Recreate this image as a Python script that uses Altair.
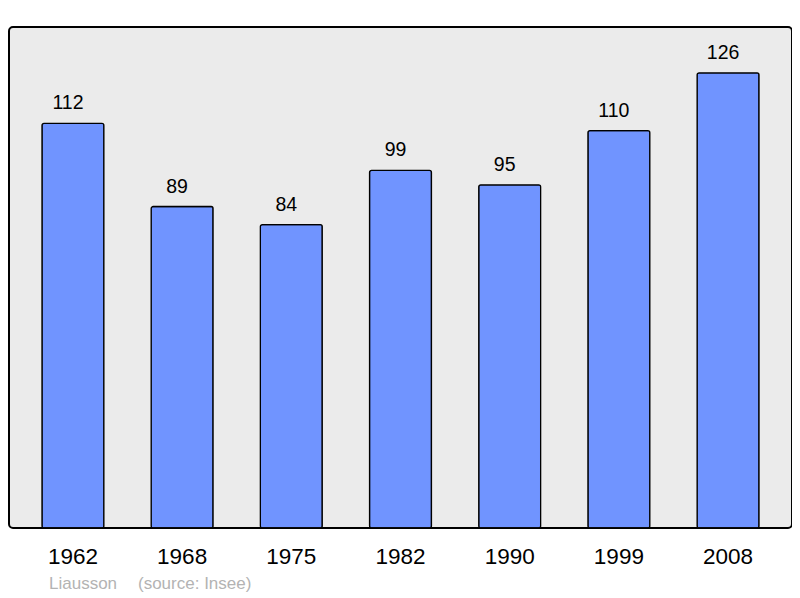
import altair as alt
import pandas as pd

years = ["1962", "1968", "1975", "1982", "1990", "1999", "2008"]
population = [112, 89, 84, 99, 95, 110, 126]
footer_texts = ["Liausson", "(source: Insee)"]

df = pd.DataFrame({"year": years, "pop": population})

FONT = "Liberation Sans"

x = alt.X("year:N", sort=years,
          scale=alt.Scale(paddingInner=0.433, paddingOuter=0.302),
          axis=alt.Axis(title=None, labelAngle=0, labelFontSize=22.5, labelColor="black",
                        labelFont=FONT, ticks=False, domain=False, labelPadding=17))
y = alt.Y("pop:Q", scale=alt.Scale(domain=[0, 138.7], nice=False),
          axis=None)

bars = alt.Chart(df).mark_bar(
    color="#7094ff", stroke="black", strokeWidth=1.3, cornerRadius=2
).encode(x=x, y=y)

labels = alt.Chart(df).mark_text(
    baseline="alphabetic", dy=-14, dx=-5, fontSize=19.5, font=FONT, color="black"
).encode(x=x, y=y, text="pop:Q")

foot1 = alt.Chart(pd.DataFrame({"t": [footer_texts[0]]})).mark_text(
    align="left", baseline="middle", fontSize=17, font=FONT, color="#b3b3b3"
).encode(x=alt.value(40), y=alt.value(557), text="t:N")

foot2 = alt.Chart(pd.DataFrame({"t": [footer_texts[1]]})).mark_text(
    align="left", baseline="middle", fontSize=17, font=FONT, color="#b3b3b3"
).encode(x=alt.value(129), y=alt.value(557), text="t:N")

chart = alt.layer(bars, labels, foot1, foot2).properties(
    width=783, height=501,
    autosize=alt.AutoSizeParams(type="none"),
    padding={"left": 1, "top": 19, "right": 0, "bottom": 72},
    background="white",
).configure_view(
    fill="#ebebeb", stroke="black", strokeWidth=2, cornerRadius=4
)

chart.save("out.html", embed_options={"renderer": "svg", "actions": False})
